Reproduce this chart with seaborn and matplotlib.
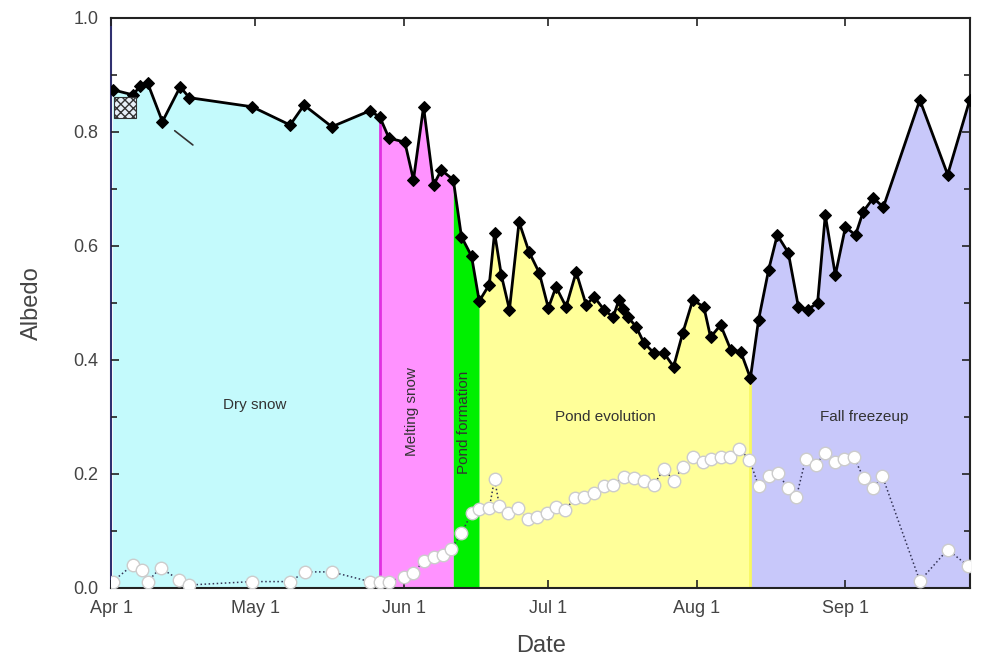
import matplotlib
matplotlib.use("Agg")
import matplotlib.pyplot as plt
import matplotlib.patches as mpatches
import numpy as np
import seaborn as sns

sns.set_style("white")
plt.rcParams["font.family"] = ["Liberation Sans", "DejaVu Sans"]

# ── dados (dias desde 1 de abril) ───────────────────────────
dias_alb = [0.3, 4.5, 6.1, 7.6, 10.7, 14.4, 16.3, 29.4, 37.3, 40.2, 46.0, 53.9,
            56.0, 57.9, 61.2, 63.0, 65.1, 67.2, 68.8, 71.3, 73.0, 75.1, 76.7,
            78.8, 79.9, 81.3, 83.0, 85.0, 87.1, 89.2, 91.1, 92.7, 94.8, 96.9,
            99.0, 100.6, 102.7, 104.6, 105.8, 106.6, 107.7, 109.4, 111.0, 113.1,
            115.2, 117.2, 119.1, 121.2, 123.5, 124.9, 127.0, 129.1, 131.2, 133.2,
            134.9, 137.0, 138.8, 141.1, 143.2, 145.1, 147.2, 148.8, 150.9, 153.0,
            155.1, 156.7, 158.8, 160.9, 168.5, 174.3, 178.9]
albedo = [0.874, 0.865, 0.880, 0.886, 0.818, 0.879, 0.860, 0.844, 0.812, 0.847,
          0.809, 0.837, 0.826, 0.789, 0.782, 0.716, 0.844, 0.707, 0.733, 0.716,
          0.616, 0.582, 0.503, 0.532, 0.623, 0.549, 0.488, 0.642, 0.589, 0.553,
          0.491, 0.528, 0.493, 0.554, 0.496, 0.511, 0.488, 0.475, 0.505, 0.490,
          0.475, 0.458, 0.430, 0.412, 0.412, 0.388, 0.447, 0.505, 0.493, 0.440,
          0.461, 0.418, 0.414, 0.368, 0.470, 0.558, 0.619, 0.588, 0.493, 0.488,
          0.500, 0.654, 0.549, 0.633, 0.619, 0.660, 0.684, 0.668, 0.856, 0.725,
          0.856]

dias_b = [0.3, 4.5, 6.5, 7.6, 10.3, 14.2, 16.3, 29.4, 37.3, 40.4, 46.0, 53.9,
          56.0, 57.9, 61.0, 63.0, 65.1, 67.2, 69.1, 70.9, 73.0, 75.1, 76.7, 78.8,
          79.9, 80.9, 82.8, 84.8, 86.9, 88.8, 90.9, 92.7, 94.6, 96.7, 98.5, 100.6,
          102.7, 104.6, 106.9, 108.9, 111.0, 113.1, 115.2, 117.2, 119.1, 121.2,
          123.3, 124.9, 127.0, 128.9, 130.9, 133.0, 134.9, 137.0, 138.9, 141.0,
          142.8, 144.7, 146.8, 148.8, 150.9, 152.6, 154.7, 156.8, 158.8, 160.7,
          168.5, 174.3, 178.5]
valor_b = [0.011, 0.040, 0.032, 0.011, 0.035, 0.014, 0.005, 0.011, 0.011, 0.028,
           0.028, 0.011, 0.011, 0.011, 0.019, 0.026, 0.047, 0.054, 0.058, 0.068,
           0.096, 0.131, 0.138, 0.140, 0.191, 0.144, 0.131, 0.140, 0.121, 0.125,
           0.131, 0.142, 0.137, 0.158, 0.160, 0.167, 0.179, 0.181, 0.195, 0.193,
           0.188, 0.181, 0.209, 0.188, 0.212, 0.230, 0.221, 0.226, 0.230, 0.230,
           0.244, 0.225, 0.179, 0.196, 0.202, 0.175, 0.160, 0.226, 0.216, 0.237,
           0.221, 0.226, 0.230, 0.193, 0.175, 0.196, 0.012, 0.067, 0.039]

fases = ["Dry snow", "Melting snow", "Pond formation", "Pond evolution", "Fall freezeup"]
fase_ini = [0.0, 56.0, 71.3, 76.7, 133.2]
fase_fim = [56.0, 71.3, 76.7, 133.2, 179.0]
fase_cor = ["#C4FAFC", "#FF92FF", "#00F000", "#FFFF99", "#C8C8FA"]
fase_txt_x = [30, 62.8, 73.6, 103, 157]
fase_txt_y = [0.32, 0.31, 0.29, 0.30, 0.30]
fase_rot = [0, 90, 90, 0, 0]

meses = ["Apr 1", "May 1", "Jun 1", "Jul 1", "Aug 1", "Sep 1"]
meses_dia = [0, 30, 61, 91, 122, 153]

# ── figura ──────────────────────────────────────────────────
fig = plt.figure(figsize=(9.83, 6.62), dpi=100)
ax = fig.add_axes([0.113, 0.112, 0.874, 0.861])
ax.set_axisbelow(False)

d = np.array(dias_alb)
a = np.array(albedo)
for ini, fim, cor in zip(fase_ini, fase_fim, fase_cor):
    mask = (d >= ini) & (d <= fim)
    ax.fill_between(d, a, where=mask, color=cor, linewidth=0, zorder=1)
ax.axvline(fase_ini[1], ymax=albedo[dias_alb.index(56.0)], color="#E030E0", lw=2, zorder=2)
ax.axvline(fase_fim[3], ymax=albedo[dias_alb.index(133.2)], color="#F8F860", lw=2, zorder=2)

for nome, x, y, r in zip(fases, fase_txt_x, fase_txt_y, fase_rot):
    ax.text(x, y, nome, rotation=r, ha="center", va="center",
            fontsize=11, color="#333333", zorder=5)

sns.lineplot(x=dias_b, y=valor_b, ax=ax, color="#333355", linestyle=":", lw=1.1,
             marker="o", markersize=9, markerfacecolor="white",
             markeredgecolor="#CCCCCC", markeredgewidth=1, zorder=3)
sns.lineplot(x=dias_alb, y=albedo, ax=ax, color="black", lw=2,
             marker="D", markersize=6, markeredgecolor="black", zorder=4)

# caixa hachurada e seta
ax.add_patch(mpatches.Rectangle((0.7, 0.825), 4.4, 0.036, facecolor="#E8F0F8",
                                edgecolor="#333333", hatch="xxxx", lw=0.8, zorder=4))
ax.annotate("", xy=(12.8, 0.805), xytext=(17.5, 0.774),
            arrowprops=dict(arrowstyle="-", color="#333333", lw=1.2), zorder=5)

ax.set_xlim(0, 179)
ax.set_ylim(0, 1.0)
ax.set_xticks(meses_dia)
ax.set_xticklabels(meses)
ax.set_yticks(np.arange(0, 1.01, 0.2))
ax.set_yticklabels([f"{v:.1f}" for v in np.arange(0, 1.01, 0.2)])
ax.set_yticks(np.arange(0.1, 1.0, 0.2), minor=True)
ax.tick_params(axis="both", which="both", direction="in", top=True, right=True,
               left=True, bottom=True, labelsize=13, labelcolor="#444444",
               length=6, width=1.2, color="#222222")
ax.tick_params(axis="y", which="minor", length=4)
ax.tick_params(axis="x", which="major", pad=9)
ax.tick_params(axis="y", which="major", pad=9)
ax.set_xlabel("Date", fontsize=17, color="#444444", labelpad=13)
ax.set_ylabel("Albedo", fontsize=17, color="#444444", labelpad=22)
for s in ax.spines.values():
    s.set_color("#222222")
    s.set_linewidth(1.5)
ax.spines["left"].set_color("#303070")

fig.savefig("out.png", dpi=100)
